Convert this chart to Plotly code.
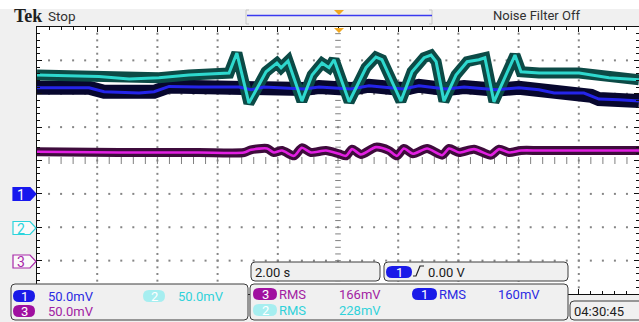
import numpy as np
import plotly.graph_objects as go

W, H = 639, 322
# ---------------- data (time in s, values in mV) ----------------
cyan_t = [-10, -7.94, -6.94, -5.95, -4.95, -3.79, -3.62, -3.36, -2.96, -2.39, -2.03, -1.89, -1.66,
          -1.20, -0.86, -0.53, -0.30, -0.13, 0.37, 0.93, 1.26, 1.46, 2.09, 2.46, 2.86, 3.09, 3.26,
          3.52, 3.92, 4.29, 4.68, 4.88, 5.18, 5.58, 5.88, 6.08, 6.68, 8.01, 9.00, 10]
cyan_mv = [228, 226, 222, 224, 228, 230, 231, 261, 186, 233, 246, 239, 249,
           189, 228, 246, 239, 251, 188, 239, 255, 251, 189, 233, 254, 258, 248,
           189, 228, 248, 251, 254, 188, 228, 258, 233, 231, 231, 224, 221]

blue_t = [-10, -8.27, -7.77, -6.61, -6.11, -5.61, -4.62, -3.29, -2.89, -2.46, -1.13, -0.63, 0.43,
          1.03, 2.16, 2.69, 3.59, 4.19, 5.25, 6.01, 6.68, 7.18, 8.17, 8.41, 8.67, 9.34, 10]
blue_mv = [159, 159, 153, 151, 153, 161, 160, 160, 156, 160, 157, 160, 157,
           162, 157, 162, 157, 160, 156, 159, 156, 151, 151, 147, 142, 141, 139]

mag_t = [-10, -7.28, -4.62, -3.12, -2.89, -2.36, -2.13, -1.86, -1.46, -1.20, -0.90, -0.40, 0.03,
         0.27, 0.47, 0.76, 1.26, 1.69, 1.96, 2.19, 2.49, 2.96, 3.46, 3.69, 4.02, 4.52, 5.08,
         5.35, 5.68, 6.08, 6.68, 8.01, 10]
mag_mv = [163, 162, 162, 162, 166, 168, 162, 165, 157, 169, 162, 165, 160,
          157, 167, 159, 170, 165, 157, 168, 160, 168, 158, 168, 162, 167, 158,
          167, 162, 165, 165, 165, 165]

volts_per_div = 50.0
ch_offsets = {"1": -1, "2": -2, "3": -3}   # ground markers, in divisions

# ---------------- helpers ----------------
def px(x):
    return x / W

def py(y):
    return 1 - y / H

def rrect(x0, y0, x1, y1, r):
    pts = (f"M {px(x0+r)},{py(y0)} L {px(x1-r)},{py(y0)} Q {px(x1)},{py(y0)} {px(x1)},{py(y0+r)} "
           f"L {px(x1)},{py(y1-r)} Q {px(x1)},{py(y1)} {px(x1-r)},{py(y1)} "
           f"L {px(x0+r)},{py(y1)} Q {px(x0)},{py(y1)} {px(x0)},{py(y1-r)} "
           f"L {px(x0)},{py(y0+r)} Q {px(x0)},{py(y0)} {px(x0+r)},{py(y0)} Z")
    return pts

def poly(points):
    s = "M " + " L ".join(f"{px(x)},{py(y)}" for x, y in points)
    return s + " Z"

fig = go.Figure()

# ---------------- graticule ----------------
gx, gy = [], []
for t in [-8, -6, -4, -2, 2, 4, 6, 8]:
    for v in np.arange(-3.8, 3.81, 0.2):
        gx.append(t); gy.append(v)
for v in [-3, -2, -1, 1, 2, 3]:
    for t in np.arange(-9.6, 9.61, 0.4):
        gx.append(t); gy.append(v)
fig.add_trace(go.Scatter(x=gx, y=gy, mode="markers", hoverinfo="skip",
                         marker=dict(symbol="square", size=2, color="#858585", line=dict(width=0))))
cv = np.arange(-3.8, 3.81, 0.2)
fig.add_trace(go.Scatter(x=[0]*len(cv), y=cv, mode="markers", hoverinfo="skip",
                         marker=dict(symbol="line-ew", size=4, line=dict(width=1, color="#808080"))))
ch = np.arange(-9.6, 9.61, 0.4)
fig.add_trace(go.Scatter(x=ch, y=[0]*len(ch), mode="markers", hoverinfo="skip",
                         marker=dict(symbol="line-ns", size=5, line=dict(width=1, color="#808080"))))

# ---------------- traces ----------------
def to_div(vals, ch):
    return [v / volts_per_div + ch_offsets[ch] for v in vals]

c_y = to_div(cyan_mv, "2")
b_y = to_div(blue_mv, "1")
m_y = to_div(mag_mv, "3")

fig.add_trace(go.Scatter(x=mag_t, y=m_y, mode="lines", hoverinfo="skip",
                         line=dict(color="#3e0c3c", width=9, shape="spline", smoothing=0.7)))
fig.add_trace(go.Scatter(x=mag_t, y=m_y, mode="lines", hoverinfo="skip",
                         line=dict(color="#e21ee2", width=2.6, shape="spline", smoothing=0.7)))
fig.add_trace(go.Scatter(x=blue_t, y=b_y, mode="lines", hoverinfo="skip",
                         line=dict(color="#07072e", width=14)))
fig.add_trace(go.Scatter(x=cyan_t, y=c_y, mode="lines", hoverinfo="skip",
                         line=dict(color="#0c4a46", width=11)))
fig.add_trace(go.Scatter(x=blue_t, y=b_y, mode="lines", hoverinfo="skip",
                         line=dict(color="#2424ea", width=3)))
fig.add_trace(go.Scatter(x=cyan_t, y=c_y, mode="lines", hoverinfo="skip",
                         line=dict(color="#2ed8ce", width=3)))

shapes = []
ann = []
FN = "Roboto, Liberation Sans"

# header
shapes.append(dict(type="rect", xref="paper", yref="paper", x0=0, x1=1, y0=py(9), y1=1,
                   fillcolor="white", line=dict(width=0), layer="below"))
shapes.append(dict(type="path", xref="paper", yref="paper",
                   path=f"M {px(249)},{py(10)} L {px(246)},{py(10)} L {px(246)},{py(24)} L {px(249)},{py(24)}",
                   line=dict(color="#c8c8c8", width=1)))
shapes.append(dict(type="path", xref="paper", yref="paper",
                   path=f"M {px(429)},{py(10)} L {px(432)},{py(10)} L {px(432)},{py(24)} L {px(429)},{py(24)}",
                   line=dict(color="#c8c8c8", width=1)))
shapes.append(dict(type="line", xref="paper", yref="paper", x0=px(247), x1=px(432), y0=py(15.5), y1=py(15.5),
                   line=dict(color="#3a3af0", width=1.5)))
shapes.append(dict(type="path", xref="paper", yref="paper",
                   path=poly([(334, 10), (344, 10), (339, 15)]),
                   fillcolor="#f2a81e", line=dict(width=0)))
shapes.append(dict(type="path", xref="paper", yref="paper",
                   path=poly([(334, 28), (344, 28), (339, 33)]),
                   fillcolor="#f2a81e", line=dict(width=0), layer="above"))
ann.append(dict(text="<b>Tek</b>", x=px(12), y=py(16), xanchor="left", yanchor="middle",
                font=dict(family="Liberation Serif, DejaVu Serif", size=18, color="#202020")))
ann.append(dict(text="Stop", x=px(46), y=py(16), xanchor="left", yanchor="middle",
                font=dict(family=FN, size=13.5, color="#303030")))
ann.append(dict(text="Noise Filter Off", x=px(536), y=py(16), xanchor="center", yanchor="middle",
                font=dict(family=FN, size=13, color="#303030")))

# channel ground markers
def marker(yc, fill, edge, label, tcol):
    shapes.append(dict(type="path", xref="paper", yref="paper",
                       path=poly([(13, yc-6.5), (30, yc-6.5), (36, yc), (30, yc+6.5), (13, yc+6.5)]),
                       fillcolor=fill, line=dict(color=edge, width=1.2)))
    ann.append(dict(text=label, x=px(21), y=py(yc+0.5), xanchor="center", yanchor="middle",
                    font=dict(family=FN, size=14, color=tcol)))

marker(194, "#1818ee", "#1818ee", "1", "white")
marker(228, "#fafafa", "#2cd4dc", "2", "#2cd4dc")
marker(261.5, "#fafafa", "#a828a8", "3", "#a828a8")

# bottom boxes
BOX = dict(fillcolor="#f0f0f0", line=dict(color="#3c3c3c", width=1), layer="above")
for (x0, y0, x1, y1) in [(251, 262, 380, 281), (384, 262, 568, 281), (11, 284, 248, 320),
                         (250, 284, 568, 320), (570, 301, 645, 320)]:
    shapes.append(dict(type="path", xref="paper", yref="paper", path=rrect(x0, y0, x1, y1, 4), **BOX))

def pill(x0, y0, x1, y1, fill, label):
    shapes.append(dict(type="path", xref="paper", yref="paper",
                       path=rrect(x0, y0, x1, y1, (y1 - y0) / 2), fillcolor=fill,
                       line=dict(width=0), layer="above"))
    ann.append(dict(text=label, x=px((x0 + x1) / 2), y=py((y0 + y1) / 2 + 0.5), xanchor="center",
                    yanchor="middle", font=dict(family=FN, size=13, color="white")))

def txt(x, y, s, col, size=13, anchor="left"):
    ann.append(dict(text=s, x=px(x), y=py(y), xanchor=anchor, yanchor="middle",
                    font=dict(family=FN, size=size, color=col)))

C1, C2, C3 = "#2a2ae2", "#30d2da", "#a222a2"
txt(253, 272, "2.00 s", "#202020")
pill(386, 266, 412, 278, "#1a1ae8", "1")
shapes.append(dict(type="path", xref="paper", yref="paper",
                   path=f"M {px(413)},{py(276)} L {px(416)},{py(276)} L {px(420)},{py(266)} L {px(424)},{py(266)}",
                   line=dict(color="#202020", width=1.2), layer="above"))
txt(426, 272, "0.00 V", "#202020")

pill(13, 290, 35, 302, "#1a1ae8", "1")
txt(46, 296, "50.0mV", C1)
pill(143, 290, 165, 302, "#a6eef0", "2")
txt(176, 296, "50.0mV", C2)
pill(13, 305, 35, 317, "#a010a0", "3")
txt(46, 311, "50.0mV", C3)

pill(253, 288, 277, 300, "#a010a0", "3")
txt(277, 294, "RMS", C3)
txt(337, 294, "166mV", C3)
pill(412, 288, 437, 300, "#1a1ae8", "1")
txt(437, 294, "RMS", C1)
txt(496, 294, "160mV", C1)
pill(253, 304, 277, 316, "#a6eef0", "2")
txt(277, 310, "RMS", C2)
txt(337, 310, "228mV", C2)
txt(572, 311, "04:30:45", "#202020")

for a in ann:
    a.update(xref="paper", yref="paper", showarrow=False)

fig.update_layout(
    width=W, height=H, autosize=False,
    margin=dict(l=0, r=0, t=0, b=0, pad=0),
    paper_bgcolor="#f0f0f0", plot_bgcolor="white",
    showlegend=False, shapes=shapes, annotations=ann,
    xaxis=dict(range=[-10, 10], domain=[37 / W, 1], showgrid=False, zeroline=False,
               showline=True, linecolor="#101010", linewidth=1, mirror="ticks",
               ticks="inside", tickvals=list(range(-10, 11, 2)), ticklen=5, tickcolor="#101010",
               minor=dict(ticks="inside", dtick=0.4, ticklen=3, tickcolor="#101010"),
               showticklabels=False, fixedrange=True),
    yaxis=dict(range=[-4, 4], domain=[(H - 294) / H, (H - 27) / H], showgrid=False, zeroline=False,
               showline=True, linecolor="#101010", linewidth=1, mirror="ticks",
               ticks="inside", dtick=1, ticklen=5, tickcolor="#101010",
               minor=dict(ticks="inside", dtick=0.2, ticklen=3, tickcolor="#101010"),
               showticklabels=False, fixedrange=True),
)

fig.write_html("out.html")
